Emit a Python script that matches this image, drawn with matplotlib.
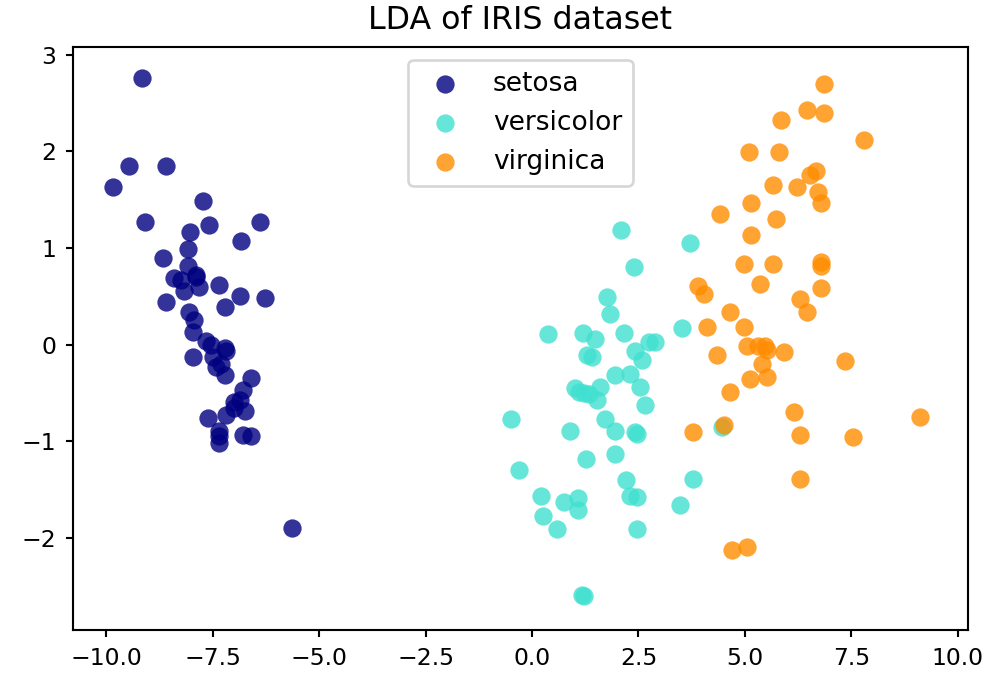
import matplotlib
matplotlib.use("Agg")
import matplotlib.pyplot as plt

# LDA projection of the iris data
target_names = ['setosa', 'versicolor', 'virginica']
colors = ['navy', 'turquoise', 'darkorange']

setosa_x = [-9.16, -9.47, -8.60, -9.85, -7.72, -9.10, -7.59, -6.40, -8.03, -6.84,
            -8.09, -8.66, -8.09, -8.40, -8.25, -7.89, -7.81, -8.18, -7.34, -8.60,
            -6.85, -6.26, -7.22, -8.05, -7.93, -7.97, -7.66, -7.22, -7.97, -7.50,
            -7.18, -7.42, -7.22, -6.60, -6.79, -6.87, -6.99, -6.75, -7.62, -7.18,
            -7.34, -7.34, -7.34, -6.79, -6.60, -5.64, -7.55, -7.90, -7.30, -7.00]
setosa_y = [2.76, 1.85, 1.85, 1.63, 1.49, 1.27, 1.24, 1.27, 1.16, 1.07,
            0.99, 0.90, 0.81, 0.69, 0.67, 0.72, 0.60, 0.55, 0.62, 0.44,
            0.50, 0.48, 0.39, 0.34, 0.25, 0.13, 0.04, -0.04, -0.13, -0.13,
            -0.07, -0.23, -0.32, -0.35, -0.47, -0.57, -0.66, -0.69, -0.76, -0.73,
            -0.89, -0.95, -1.02, -0.94, -0.95, -1.90, 0.00, 0.70, -0.20, -0.60]

versicolor_x = [2.09, 3.70, 2.40, 1.77, 1.84, 0.38, 1.19, 1.48, 2.15, 3.52,
                2.74, 2.89, 2.42, 2.58, 1.29, 1.40, 1.95, 2.31, 2.54, 1.01,
                1.33, 1.52, 1.60, 1.21, 2.66, 1.72, -0.49, 0.89, 1.95, 2.42,
                2.46, 1.27, 1.95, -0.30, 2.21, 3.77, 0.20, 0.75, 1.09, 1.07,
                2.31, 2.46, 3.47, 0.25, 0.58, 2.46, 1.17, 1.22, 4.46, 1.10]
versicolor_y = [1.19, 1.05, 0.80, 0.49, 0.32, 0.11, 0.12, 0.06, 0.12, 0.17,
                0.03, 0.03, -0.07, -0.16, -0.11, -0.13, -0.32, -0.30, -0.44, -0.45,
                -0.51, -0.57, -0.44, -0.50, -0.63, -0.77, -0.77, -0.89, -0.89, -0.91,
                -0.93, -1.19, -1.13, -1.30, -1.40, -1.39, -1.57, -1.63, -1.59, -1.71,
                -1.57, -1.58, -1.66, -1.78, -1.91, -1.91, -2.59, -2.60, -0.85, -0.49]

virginica_x = [6.85, 6.46, 6.85, 5.85, 7.80, 5.09, 5.80, 6.66, 6.54, 5.66,
               6.23, 6.72, 6.79, 5.15, 4.41, 5.72, 5.15, 4.97, 5.66, 6.79,
               6.79, 5.35, 6.79, 3.91, 4.03, 6.29, 4.66, 6.46, 4.11, 4.97,
               4.35, 5.05, 5.32, 5.48, 5.52, 5.91, 5.40, 5.13, 5.52, 7.35,
               4.66, 6.16, 9.11, 4.52, 3.78, 6.29, 7.55, 6.29, 4.70, 5.04]
virginica_y = [2.70, 2.43, 2.40, 2.32, 2.12, 1.99, 1.99, 1.80, 1.75, 1.65,
               1.63, 1.58, 1.46, 1.46, 1.35, 1.30, 1.13, 0.83, 0.83, 0.85,
               0.81, 0.63, 0.58, 0.61, 0.52, 0.47, 0.34, 0.34, 0.18, 0.18,
               -0.11, -0.02, -0.02, -0.02, -0.06, -0.08, -0.20, -0.36, -0.34, -0.17,
               -0.49, -0.70, -0.75, -0.83, -0.91, -0.94, -0.96, -1.39, -2.13, -2.10]

xs = [setosa_x, versicolor_x, virginica_x]
ys = [setosa_y, versicolor_y, virginica_y]

DPI = 190
fig = plt.figure(figsize=(983 / DPI, 678 / DPI), dpi=DPI)
ax = fig.add_axes([0.0743, 0.0708, 0.9104, 0.8599])

for color, x, y, name in zip(colors, xs, ys, target_names):
    ax.scatter(x, y, alpha=.8, color=color, s=48, lw=0, label=name)

ax.set_xlim(-10.78, 10.24)
ax.set_ylim(-2.955, 3.08)
ax.tick_params(length=2.8, labelsize=8.9)
ax.legend(loc='upper center', shadow=False, scatterpoints=1)
ax.set_title('LDA of IRIS dataset', pad=7)

fig.savefig('out.png', dpi=DPI)
